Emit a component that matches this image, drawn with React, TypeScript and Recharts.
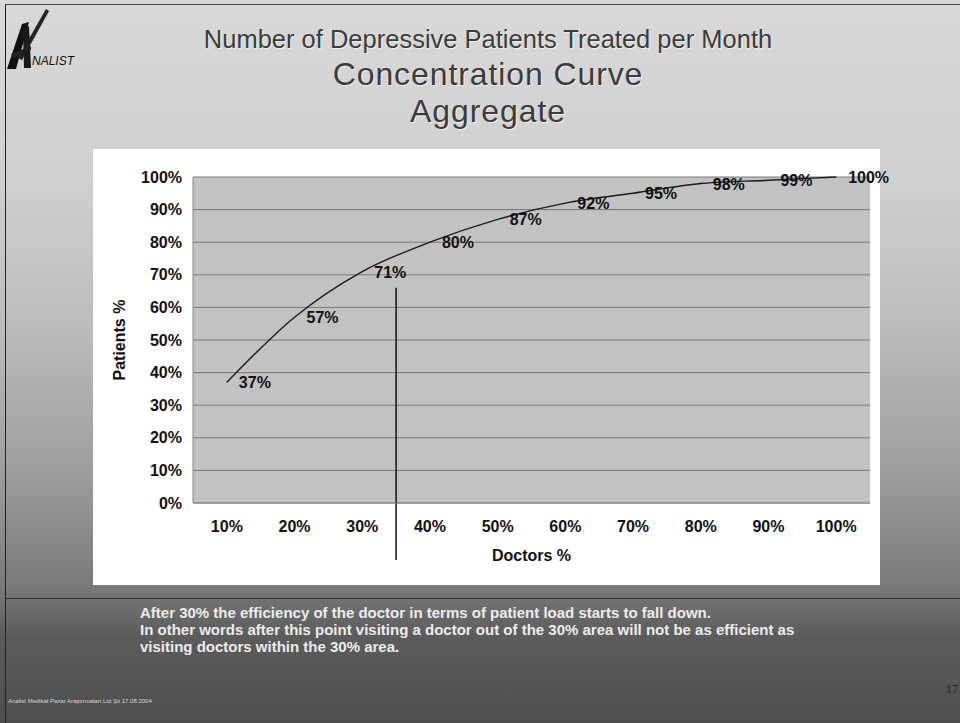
import React from 'react';
import { LineChart, Line, XAxis, YAxis, CartesianGrid, ReferenceLine, LabelList, Label } from 'recharts';

const doctorsPct = [10, 20, 30, 40, 50, 60, 70, 80, 90, 100];
const patientsPct = [37, 57, 71, 80, 87, 92, 95, 98, 99, 100];
const yTicks = [0, 10, 20, 30, 40, 50, 60, 70, 80, 90, 100];
const cutoffDoctors = 35;
const cutoffTop = 66;
const cutoffBottom = -17.5;

const titleLines = ['Number of Depressive Patients Treated per Month', 'Concentration Curve', 'Aggregate'];
const noteLines = [
  'After 30% the efficiency of the doctor in terms of patient load starts to fall down.',
  'In other words after this point visiting a doctor out of the 30% area will not be as efficient as',
  'visiting doctors within the 30% area.',
];
const footer = 'Analist Medikal Pazar Araştırmaları Ltd Şti 17.08.2004';

const data = doctorsPct.map((d, i) => ({ doctors: d, patients: patientsPct[i] }));

const FONT = '"Liberation Sans", Arial, sans-serif';

const PointLabel = (props: any) => {
  const { x, y, value } = props;
  return (
    <text x={x + 12} y={y + 6} fontSize={16} fontWeight="bold" fill="#111" fontFamily={FONT}>
      {value}%
    </text>
  );
};

const YTitle = (props: any) => {
  const vb = props.viewBox || { x: 133, y: 177, width: 60, height: 326 };
  const cx = vb.x + vb.width / 2 - 44;
  const cy = vb.y + vb.height / 2;
  return (
    <text x={cx} y={cy} transform={`rotate(-90, ${cx}, ${cy})`} textAnchor="middle" dominantBaseline="central"
      fontSize={16} fontWeight="bold" fill="#111" fontFamily={FONT}>
      Patients %
    </text>
  );
};

export default function App() {
  return (
    <div style={{ position: 'absolute', left: 0, top: 0, width: 960, height: 723, overflow: 'hidden', fontFamily: FONT,
      background: 'linear-gradient(to bottom, #d8d8d8 0%, #d0d0d0 25%, #bcbcbc 45%, #9e9e9e 65%, #7a7a7a 81%, #5c5c5c 88%, #4e4e4e 100%)' }}>
      {/* frame lines */}
      <div style={{ position: 'absolute', left: 5, top: 4, width: 1, height: 719, background: '#222' }} />
      <div style={{ position: 'absolute', left: 5, top: 4, width: 955, height: 1, background: '#444' }} />
      <div style={{ position: 'absolute', left: 5, top: 598, width: 955, height: 1, background: '#333' }} />
      {/* logo */}
      <svg style={{ position: 'absolute', left: 0, top: 0 }} width={90} height={80}>
        <polygon points="7,69 22,24 29,22 16,69" fill="#111" />
        <polygon points="23,30 29,26 31,68 24,68" fill="#1a1a1a" />
        <polygon points="11,54 31,46 31,50 13,58" fill="#222" />
        <polygon points="18,58 46,9 49,11 22,60" fill="#222" />
      </svg>
      <div style={{ position: 'absolute', left: 32, top: 54, fontSize: 12, fontStyle: 'italic', color: '#111' }}>NALIST</div>
      {/* titles */}
      <div style={{ position: 'absolute', left: 0, width: 976, top: 25, textAlign: 'center', fontSize: 25.5, lineHeight: '29px', color: '#3c3c3c', textShadow: '1px 1px 0 #eee' }}>{titleLines[0]}</div>
      <div style={{ position: 'absolute', left: 0, width: 976, top: 58, textAlign: 'center', fontSize: 32, letterSpacing: 0.9, lineHeight: '32px', color: '#3c3c3c', textShadow: '1px 1px 0 #eee' }}>{titleLines[1]}</div>
      <div style={{ position: 'absolute', left: 0, width: 976, top: 95, textAlign: 'center', fontSize: 32, letterSpacing: 0.9, lineHeight: '32px', color: '#3c3c3c', textShadow: '1px 1px 0 #eee' }}>{titleLines[2]}</div>
      {/* white box */}
      <div style={{ position: 'absolute', left: 93, top: 149, width: 787, height: 436, background: '#fff' }} />
      {/* notes */}
      <div style={{ position: 'absolute', left: 140, top: 604, fontSize: 15, fontWeight: 'bold', color: '#ececec', lineHeight: '17px' }}>
        {noteLines.map((l, i) => <div key={i}>{l}</div>)}
      </div>
      <div style={{ position: 'absolute', left: 8, top: 698, fontSize: 6, color: '#d8d8d8' }}>{footer}</div>
      <div style={{ position: 'absolute', left: 946, top: 682, fontSize: 12, color: '#222', fontFamily: 'serif' }}>17</div>
      {/* chart */}
      <div style={{ position: 'absolute', left: 0, top: 0 }}>
        <LineChart width={960} height={723} data={data} margin={{ top: 177, right: 90, bottom: 180, left: 133 }}>
          <CartesianGrid vertical={false} horizontal={true} stroke="#787878" fill="#c2c2c2" fillOpacity={1} />
          <XAxis dataKey="doctors" type="number" domain={[5, 105]} ticks={doctorsPct} height={40}
            tickFormatter={(v: number) => `${v}%`} tickLine={false} tickSize={6} tickMargin={12}
            axisLine={{ stroke: '#888' }} interval={0}
            tick={{ fontSize: 16, fontWeight: 'bold', fill: '#111', fontFamily: FONT }}>
            <Label value="Doctors %" position="bottom" offset={7} style={{ fontSize: 16, fontWeight: 'bold', fill: '#111', fontFamily: FONT }} />
          </XAxis>
          <YAxis type="number" domain={[0, 100]} ticks={yTicks} width={60} interval={0}
            tickFormatter={(v: number) => `${v}%`} tickLine={false} tickSize={6} tickMargin={5}
            axisLine={{ stroke: '#888' }}
            tick={{ fontSize: 16, fontWeight: 'bold', fill: '#111', fontFamily: FONT }}>
            <Label content={<YTitle />} />
          </YAxis>
          <ReferenceLine segment={[{ x: cutoffDoctors, y: cutoffTop }, { x: cutoffDoctors, y: cutoffBottom }]}
            stroke="#111" strokeWidth={1.5} ifOverflow="visible" />
          <Line dataKey="patients" type="monotone" stroke="#1a1a1a" strokeWidth={1.4} dot={false} isAnimationActive={false}>
            <LabelList dataKey="patients" content={<PointLabel />} />
          </Line>
        </LineChart>
      </div>
    </div>
  );
}
